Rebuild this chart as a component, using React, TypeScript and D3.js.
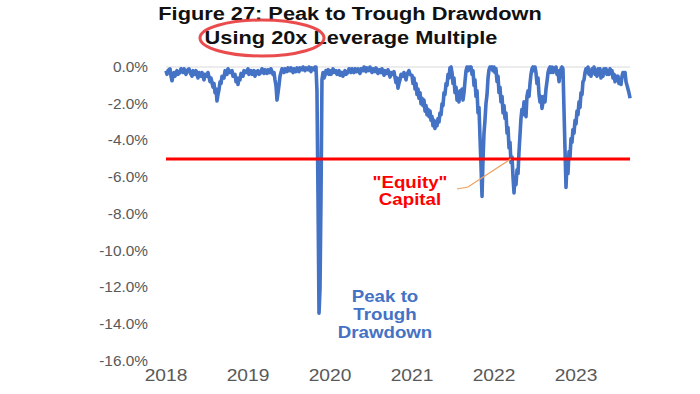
import * as d3 from 'd3';

// drawdown (%), x in decimal years as placed on the axis
const seg2018: [number, number][] = [
    [2018.0, -0.2], [2018.012, -0.4], [2018.024, -0.2], [2018.049, -0.1], [2018.061, -0.5], [2018.073, -0.75],
    [2018.085, -0.5], [2018.098, -0.3], [2018.11, -0.5], [2018.134, -0.2], [2018.146, -0.4], [2018.171, -0.3],
    [2018.183, -0.1], [2018.207, -0.3], [2018.22, -0.1], [2018.244, -0.4], [2018.256, -0.2], [2018.28, -0.1],
    [2018.293, -0.3], [2018.317, -0.5], [2018.329, -0.2], [2018.354, -0.4], [2018.366, -0.2], [2018.39, -0.6],
    [2018.402, -0.3], [2018.427, -0.5], [2018.439, -0.3], [2018.463, -0.7], [2018.476, -0.4], [2018.5, -0.5],
    [2018.512, -0.3], [2018.537, -0.8], [2018.549, -0.6], [2018.573, -1.1], [2018.585, -0.9], [2018.598, -1.4],
    [2018.61, -1.2], [2018.622, -1.85], [2018.634, -1.5], [2018.646, -1.25], [2018.659, -0.8], [2018.671, -0.9],
    [2018.683, -0.5], [2018.707, -0.6], [2018.72, -0.2], [2018.744, -0.4], [2018.756, -0.1], [2018.78, -0.3],
    [2018.805, -0.2], [2018.817, -0.5], [2018.841, -0.4], [2018.854, -0.8], [2018.866, -0.6], [2018.878, -0.95],
    [2018.89, -0.6], [2018.902, -0.7], [2018.915, -0.35], [2018.939, -0.5], [2018.951, -0.2], [2018.976, -0.3],
];
const seg2019: [number, number][] = [
    [2019.0, -0.1], [2019.012, -0.4], [2019.037, -0.2], [2019.049, -0.4], [2019.073, -0.2], [2019.085, -0.5],
    [2019.098, -0.3], [2019.122, -0.2], [2019.134, -0.4], [2019.159, -0.3], [2019.171, -0.1], [2019.195, -0.35],
    [2019.207, -0.15], [2019.232, -0.35], [2019.244, -0.15], [2019.268, -0.3], [2019.28, -0.1], [2019.305, -0.4],
    [2019.317, -0.3], [2019.329, -0.7], [2019.341, -1.0], [2019.354, -1.8], [2019.366, -1.4], [2019.378, -1.0],
    [2019.39, -0.5], [2019.402, -0.3], [2019.415, -0.1], [2019.439, -0.3], [2019.451, -0.1], [2019.476, -0.25],
    [2019.488, -0.05], [2019.512, -0.2], [2019.524, -0.05], [2019.549, -0.3], [2019.561, -0.1], [2019.585, -0.25],
    [2019.598, -0.05], [2019.622, -0.25], [2019.634, -0.05], [2019.659, -0.15], [2019.671, 0], [2019.695, -0.2],
    [2019.707, -0.05], [2019.732, -0.15], [2019.744, 0], [2019.768, -0.25], [2019.78, -0.05], [2019.805, -0.15],
    [2019.817, 0], [2019.829, 0], [2019.841, -1.3], [2019.854, -7.2], [2019.866, -13.4], [2019.878, -12.1],
    [2019.89, -7.2], [2019.896, -4.0], [2019.902, -0.7], [2019.915, -0.3], [2019.927, -0.6], [2019.939, -0.45],
    [2019.951, -0.2], [2019.963, -0.35], [2019.976, -0.15], [2019.988, -0.4],
];
const seg2020: [number, number][] = [
    [2020.0, -0.2], [2020.012, -0.4], [2020.037, -0.1], [2020.049, -0.3], [2020.073, -0.2], [2020.085, -0.4],
    [2020.11, -0.2], [2020.122, -0.45], [2020.146, -0.3], [2020.158, -0.5], [2020.183, -0.2], [2020.195, -0.4],
    [2020.22, -0.3], [2020.232, -0.1], [2020.256, -0.3], [2020.268, -0.1], [2020.293, -0.3], [2020.305, -0.1],
    [2020.329, -0.25], [2020.341, -0.1], [2020.366, -0.35], [2020.378, -0.1], [2020.402, -0.2], [2020.415, 0],
    [2020.439, -0.25], [2020.451, -0.05], [2020.476, -0.2], [2020.488, 0], [2020.512, -0.3], [2020.524, -0.1],
    [2020.549, -0.25], [2020.561, -0.05], [2020.585, -0.35], [2020.598, -0.15], [2020.622, -0.3], [2020.634, -0.1],
    [2020.659, -0.45], [2020.671, -0.2], [2020.695, -0.35], [2020.707, -0.15], [2020.732, -0.55], [2020.744, -0.3],
    [2020.768, -0.4], [2020.78, -0.25], [2020.805, -0.85], [2020.817, -0.6], [2020.829, -1.15], [2020.841, -0.9],
    [2020.854, -0.7], [2020.866, -0.4], [2020.89, -0.5], [2020.902, -0.3], [2020.927, -0.7], [2020.939, -0.4],
    [2020.963, -0.2], [2020.976, -0.4], [2020.988, -0.45],
];
const seg2021: [number, number][] = [
    [2021.0, -0.45], [2021.012, -0.9], [2021.024, -0.6], [2021.037, -1.2], [2021.049, -0.9], [2021.061, -1.5],
    [2021.073, -1.2], [2021.085, -1.7], [2021.098, -1.4], [2021.11, -2.0], [2021.122, -1.7], [2021.134, -2.1],
    [2021.146, -1.8], [2021.159, -2.4], [2021.171, -2.1], [2021.183, -2.6], [2021.195, -2.3], [2021.207, -2.7],
    [2021.22, -2.4], [2021.232, -2.9], [2021.244, -2.7], [2021.256, -3.2], [2021.268, -2.9], [2021.28, -3.35],
    [2021.293, -3.0], [2021.305, -3.2], [2021.317, -2.8], [2021.329, -3.0], [2021.341, -2.5], [2021.354, -2.6],
    [2021.366, -2.0], [2021.378, -2.1], [2021.39, -1.4], [2021.402, -1.5], [2021.415, -0.9], [2021.427, -1.0],
    [2021.439, -0.4], [2021.451, -0.6], [2021.463, -0.05], [2021.476, 0], [2021.488, -0.3], [2021.5, -0.9],
    [2021.512, -0.6], [2021.524, -1.4], [2021.537, -1.1], [2021.549, -1.8], [2021.561, -1.5], [2021.573, -1.9],
    [2021.585, -1.3], [2021.598, -1.6], [2021.61, -1.2], [2021.622, -1.8], [2021.634, -1.4], [2021.646, -0.8],
    [2021.659, -0.2], [2021.671, 0], [2021.683, -0.2], [2021.695, 0], [2021.707, -0.1], [2021.72, 0],
    [2021.732, -0.4], [2021.744, -0.2], [2021.756, -1.0], [2021.768, -0.7], [2021.78, -1.6], [2021.793, -1.3],
    [2021.805, -2.5], [2021.817, -2.2], [2021.829, -3.8], [2021.841, -5.3], [2021.854, -7.05], [2021.866, -5.0],
    [2021.878, -3.6], [2021.89, -2.9], [2021.902, -2.0], [2021.915, -1.5], [2021.927, -0.6], [2021.939, -0.15],
    [2021.951, 0], [2021.963, -0.1], [2021.976, 0], [2021.988, -0.2],
];
const seg2022: [number, number][] = [
    [2022.0, 0], [2022.012, -0.3], [2022.024, -0.1], [2022.037, -0.8], [2022.049, -0.5], [2022.061, -1.4],
    [2022.073, -1.1], [2022.085, -1.9], [2022.098, -1.6], [2022.11, -2.5], [2022.122, -2.1], [2022.134, -2.8],
    [2022.146, -2.5], [2022.159, -3.6], [2022.171, -3.3], [2022.183, -4.4], [2022.195, -4.1], [2022.207, -5.2],
    [2022.22, -4.9], [2022.232, -6.0], [2022.244, -6.85], [2022.256, -6.0], [2022.268, -6.4], [2022.281, -5.6],
    [2022.293, -5.8], [2022.305, -4.6], [2022.317, -3.7], [2022.329, -2.8], [2022.341, -2.3], [2022.354, -2.6],
    [2022.366, -1.9], [2022.378, -2.3], [2022.39, -2.7], [2022.402, -1.6], [2022.415, -1.3], [2022.427, -1.6],
    [2022.439, -0.9], [2022.451, -0.4], [2022.463, -0.1], [2022.476, 0], [2022.488, -0.2], [2022.5, 0],
    [2022.512, -0.3], [2022.524, -0.9], [2022.537, -0.6], [2022.549, -1.5], [2022.561, -1.9], [2022.573, -1.6],
    [2022.585, -2.25], [2022.598, -1.9], [2022.61, -1.6], [2022.622, -1.9], [2022.634, -1.2], [2022.646, -0.8],
    [2022.659, -0.3], [2022.671, -0.1], [2022.683, 0], [2022.695, -0.3], [2022.707, 0], [2022.72, -0.3],
    [2022.732, -0.05], [2022.744, -0.2], [2022.756, 0], [2022.768, -0.4], [2022.78, -0.2], [2022.793, -0.8],
    [2022.805, -0.4], [2022.817, -0.1], [2022.829, 0], [2022.841, -0.1], [2022.854, -2.4], [2022.866, -4.5],
    [2022.878, -6.55], [2022.89, -5.2], [2022.902, -5.8], [2022.915, -4.6], [2022.927, -4.9], [2022.939, -3.9],
    [2022.951, -4.1], [2022.963, -3.4], [2022.976, -3.6], [2022.988, -2.9],
];
const seg2023: [number, number][] = [
    [2023.0, -3.1], [2023.012, -2.4], [2023.024, -2.6], [2023.037, -1.9], [2023.049, -2.2], [2023.061, -1.4],
    [2023.073, -1.5], [2023.085, -0.8], [2023.098, -0.7], [2023.11, -0.3], [2023.122, -0.1], [2023.134, -0.3],
    [2023.146, 0], [2023.159, -0.4], [2023.171, -0.2], [2023.183, -0.5], [2023.195, -0.1], [2023.207, -0.3],
    [2023.22, 0], [2023.232, -0.4], [2023.244, -0.2], [2023.256, -0.5], [2023.268, -0.1], [2023.28, -0.3],
    [2023.293, -0.1], [2023.305, -0.6], [2023.317, -0.3], [2023.329, -0.5], [2023.341, -0.1], [2023.354, -0.3],
    [2023.366, -0.1], [2023.378, -0.4], [2023.39, -0.2], [2023.402, -0.4], [2023.415, -0.1], [2023.427, -0.3],
    [2023.439, -0.2], [2023.451, -0.6], [2023.463, -0.4], [2023.476, -0.8], [2023.488, -0.5], [2023.5, -0.7],
    [2023.512, -0.5], [2023.524, -0.9], [2023.537, -0.7], [2023.549, -0.95], [2023.561, -0.5], [2023.573, -0.3],
    [2023.585, -0.5], [2023.598, -0.3], [2023.61, -0.8], [2023.622, -1.0], [2023.634, -1.2], [2023.646, -1.4],
    [2023.659, -1.7],
];

const yearTicks = [2018, 2019, 2020, 2021, 2022, 2023];
const pctTicks = [0, -2, -4, -6, -8, -10, -12, -14, -16];
const equityLevel = -5;

const titleLines = ['Figure 27: Peak to Trough Drawdown', 'Using 20x Leverage Multiple'];
const equityLabel = ['"Equity"', 'Capital'];
const drawdownLabel = ['Peak to', 'Trough', 'Drawdown'];

const BLUE = '#4472C4';
const RED = '#FF0000';
const GREY = '#595959';

// the source image is stretched sideways, so text gets a horizontal scale
const SText = ({ x, y, sx = 1.18, size, weight = 'normal', fill, anchor = 'middle', children }: any) => (
    <text transform={`translate(${x},${y}) scale(${sx},1)`} dy="0.35em" textAnchor={anchor}
        fontSize={size} fontWeight={weight} fill={fill}>
        {children}
    </text>
);

export default function App() {
    const width = 700;
    const height = 394;

    const series = [...seg2018, ...seg2019, ...seg2020, ...seg2021, ...seg2022, ...seg2023];

    const x = d3.scaleLinear().domain([2018, 2024]).range([166, 658]);
    const y = d3.scaleLinear().domain([0, -16]).range([67, 361]);

    const line = d3.line<[number, number]>()
        .x(d => x(d[0]))
        .y(d => y(d[1]));

    const xEnd = x(d3.max(series, d => d[0]) || 2023.66);

    return (
        <svg width={width} height={height}
            style={{ position: 'absolute', left: 0, top: 0, background: '#fff', fontFamily: 'Arial, "Liberation Sans", sans-serif' }}>
            {/* title */}
            <SText x={350} y={14} sx={1.21} size={18} weight="bold" fill="#111">{titleLines[0]}</SText>
            <SText x={351} y={38} sx={1.21} size={18} weight="bold" fill="#111">{titleLines[1]}</SText>
            <ellipse cx={262} cy={38} rx={62} ry={18} fill="none" stroke="#E8383B" strokeWidth={3} opacity={0.9} />

            {/* y axis labels */}
            {pctTicks.map(t => (
                <SText key={t} x={148} y={y(t)} sx={1.1} size={14} fill={GREY} anchor="end">{t.toFixed(1)}%</SText>
            ))}

            {/* x axis labels */}
            {yearTicks.map(t => (
                <SText key={t} x={x(t)} y={375} sx={1.2} size={16} fill={GREY}>{t}</SText>
            ))}

            {/* faint zero gridline */}
            <line x1={x(2018)} x2={xEnd} y1={y(0)} y2={y(0)} stroke="#d9d9d9" strokeWidth={1} />

            {/* drawdown series */}
            <path d={line(series) || ''} fill="none" stroke={BLUE} strokeWidth={3.6} strokeLinejoin="round" />

            {/* equity capital level */}
            <line x1={x(2018)} x2={xEnd} y1={y(equityLevel)} y2={y(equityLevel)} stroke={RED} strokeWidth={3} />

            {/* annotations */}
            <path d={`M457,189 L468,187 L511,${y(equityLevel)}`} fill="none" stroke="#F0A060" strokeWidth={1.2} />
            {equityLabel.map((s, i) => (
                <SText key={s} x={410} y={182 + i * 17} sx={1.17} size={16} weight="bold" fill={RED}>{s}</SText>
            ))}
            {drawdownLabel.map((s, i) => (
                <SText key={s} x={385} y={296 + i * 18} sx={1.17} size={16} weight="bold" fill={BLUE}>{s}</SText>
            ))}
        </svg>
    );
}
